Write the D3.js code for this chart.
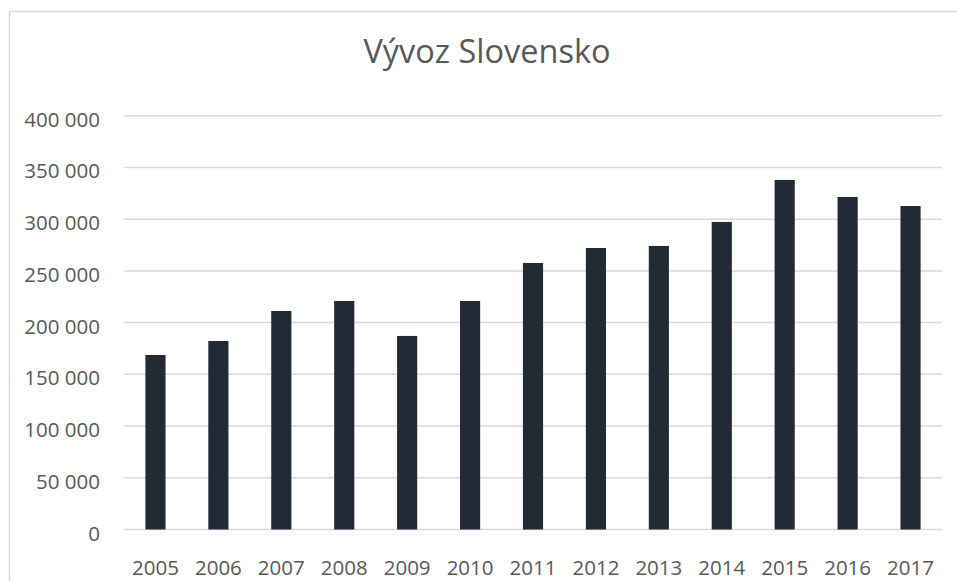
<!DOCTYPE html>
<html>
<head>
<meta charset="utf-8">
<script src="https://cdn.jsdelivr.net/npm/d3@7"></script>
<style>
  html, body { margin: 0; padding: 0; background: #fff; }
  svg { display: block; }
</style>
</head>
<body>
<svg id="chart" width="957" height="581"></svg>
<script>
const title = "Vývoz Slovensko";
const years = ["2005","2006","2007","2008","2009","2010","2011","2012","2013","2014","2015","2016","2017"];
const exportsValues = [168700, 182200, 211200, 220900, 187100, 220900, 257600, 272100, 274100, 297300, 337900, 321400, 312700];
const yTicks = [0, 50000, 100000, 150000, 200000, 250000, 300000, 350000, 400000];

const svg = d3.select("#chart");
const font = "'Open Sans', 'Noto Sans', sans-serif";
const textColor = "#595959";

// chart frame
svg.append("path")
  .attr("d", "M9.5,581 L9.5,11.5 L957,11.5")
  .attr("fill", "none")
  .attr("stroke", "#d9d9d9")
  .attr("stroke-width", 1.5);

const margin = {left: 124, right: 15, top: 115.7, bottom: 51.5};
const plotW = 957 - margin.left - margin.right;
const plotBottom = 581 - margin.bottom;

const x = d3.scaleBand().domain(years).range([margin.left, margin.left + plotW]).paddingInner(0.68).paddingOuter(0.34);
const y = d3.scaleLinear().domain([0, 400000]).range([plotBottom, margin.top]);

// gridlines
svg.append("g")
  .selectAll("line")
  .data(yTicks)
  .join("line")
  .attr("x1", margin.left)
  .attr("x2", margin.left + plotW)
  .attr("y1", d => y(d))
  .attr("y2", d => y(d))
  .attr("stroke", "#d9d9d9")
  .attr("stroke-width", 1.5);

// y labels
const fmt = d => d3.format(",")(d).replace(/,/g, " ");
svg.append("g")
  .selectAll("text")
  .data(yTicks)
  .join("text")
  .attr("x", 100)
  .attr("y", d => y(d) + 11)
  .attr("text-anchor", "end")
  .attr("font-family", font)
  .attr("font-size", 20.5)
  .attr("fill", textColor)
  .text(fmt);

// bars
svg.append("g")
  .selectAll("rect")
  .data(exportsValues)
  .join("rect")
  .attr("x", (d, i) => x(years[i]))
  .attr("width", x.bandwidth())
  .attr("y", d => y(d))
  .attr("height", d => y(0) - y(d))
  .attr("fill", "#222a35");

// x labels
svg.append("g")
  .selectAll("text")
  .data(years)
  .join("text")
  .attr("x", d => x(d) + x.bandwidth() / 2)
  .attr("y", 575)
  .attr("text-anchor", "middle")
  .attr("font-family", font)
  .attr("font-size", 20.5)
  .attr("fill", textColor)
  .text(d => d);

// title
svg.append("text")
  .attr("x", 487)
  .attr("y", 63)
  .attr("text-anchor", "middle")
  .attr("font-family", font)
  .attr("font-size", 32.5)
  .attr("fill", textColor)
  .text(title);
</script>
</body>
</html>
